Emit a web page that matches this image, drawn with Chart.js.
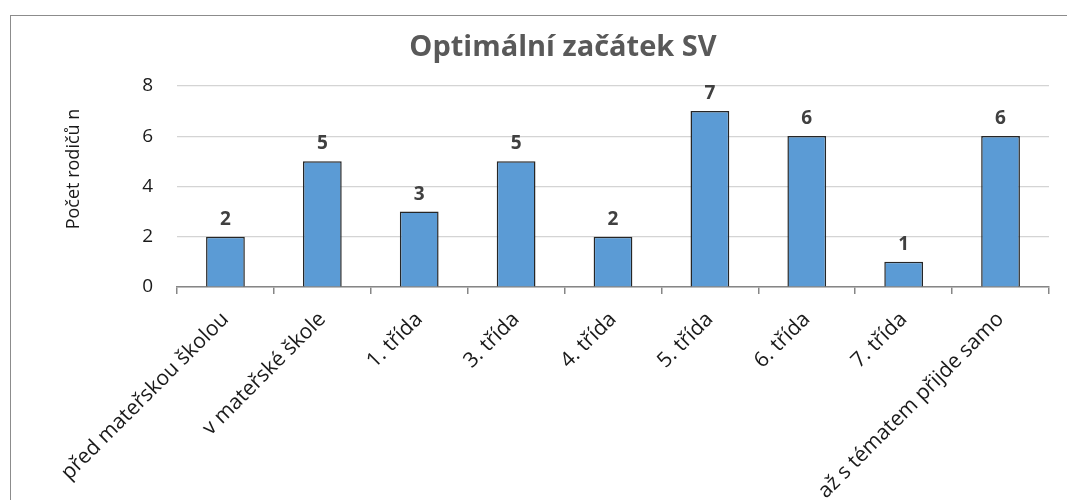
<!DOCTYPE html>
<html>
<head>
<meta charset="utf-8">
<script src="https://cdn.jsdelivr.net/npm/chart.js@4.4.1/dist/chart.umd.min.js"></script>
<style>
  html, body { margin: 0; padding: 0; background: #fff; overflow: hidden; }
  #wrap { position: relative; width: 1067px; height: 500px; overflow: hidden; }
  #frame { position: absolute; left: 10px; top: 15px; width: 1200px; height: 600px;
           border-left: 1px solid #8c8c8c; border-top: 1px solid #8c8c8c; }
  #chart { position: absolute; left: 0; top: 0; }
</style>
</head>
<body>
<div id="wrap">
  <div id="frame"></div>
  <canvas id="chart" width="1126" height="500"></canvas>
</div>
<script>
const categories = [
  "před mateřskou školou",
  "v mateřské škole",
  "1. třída",
  "3. třída",
  "4. třída",
  "5. třída",
  "6. třída",
  "7. třída",
  "až s tématem přijde samo"
];
const counts = [2, 5, 3, 5, 2, 7, 6, 1, 6];
const yTicks = [0, 2, 4, 6, 8];
const yTitle = "Počet rodičů n";

// values above bars + y axis title
const barLabels = {
  id: 'barLabels',
  afterDatasetsDraw(chart) {
    const ctx = chart.ctx;
    const meta = chart.getDatasetMeta(0);
    ctx.save();
    ctx.font = 'bold 19px "Open Sans"';
    ctx.fillStyle = '#404040';
    ctx.textAlign = 'center';
    ctx.textBaseline = 'alphabetic';
    meta.data.forEach((bar, i) => {
      ctx.fillText(counts[i], bar.x, bar.y - 12);
    });
    ctx.restore();

    ctx.save();
    ctx.translate(74, 169);
    ctx.rotate(-Math.PI / 2);
    ctx.font = '18px "Open Sans"';
    ctx.fillStyle = '#1a1a1a';
    ctx.textAlign = 'center';
    ctx.textBaseline = 'middle';
    ctx.fillText(yTitle, 0, 0);
    ctx.restore();
  }
};

const ctx = document.getElementById('chart').getContext('2d');

const chart = new Chart(ctx, {
  type: 'bar',
  data: {
    labels: categories,
    datasets: [{
      data: counts,
      backgroundColor: '#5B9BD5',
      borderColor: '#262626',
      borderWidth: 1.5,
      categoryPercentage: 0.4,
      barPercentage: 1
    }]
  },
  options: {
    responsive: false,
    animation: false,
    layout: { padding: 0 },
    plugins: {
      legend: { display: false },
      tooltip: { enabled: false },
      title: {
        display: true,
        text: 'Optimální začátek SV',
        color: '#595959',
        font: { family: 'Open Sans', size: 29, weight: 'bold' },
        padding: { top: 30, bottom: 21 }
      }
    },
    scales: {
      x: {
        afterFit: s => { s.height = 213; },
        border: { color: '#868686', width: 1.5 },
        grid: {
          offset: true,
          drawOnChartArea: false,
          drawTicks: true,
          tickLength: 7,
          color: '#868686',
          lineWidth: 1.5
        },
        ticks: {
          color: '#1a1a1a',
          font: { family: 'Open Sans', size: 21 },
          minRotation: 45,
          maxRotation: 45,
          padding: 13,
          autoSkip: false
        }
      },
      y: {
        min: 0,
        max: 8,
        afterFit: s => { s.width = 177; },
        afterBuildTicks: s => { s.ticks = yTicks.map(v => ({ value: v })); },
        border: { display: false },
        grid: { color: '#d4d4d4', lineWidth: 1.2, drawTicks: false },
        ticks: {
          color: '#1a1a1a',
          font: { family: 'Open Sans', size: 19 },
          padding: 24
        }
      },
      // empty right-hand box so the title centres over the full (cropped) chart
      yRight: {
        position: 'right',
        afterFit: s => { s.width = 77; },
        border: { display: false },
        grid: { drawOnChartArea: false, drawTicks: false },
        ticks: { display: false }
      }
    }
  },
  plugins: [barLabels]
});
</script>
</body>
</html>
